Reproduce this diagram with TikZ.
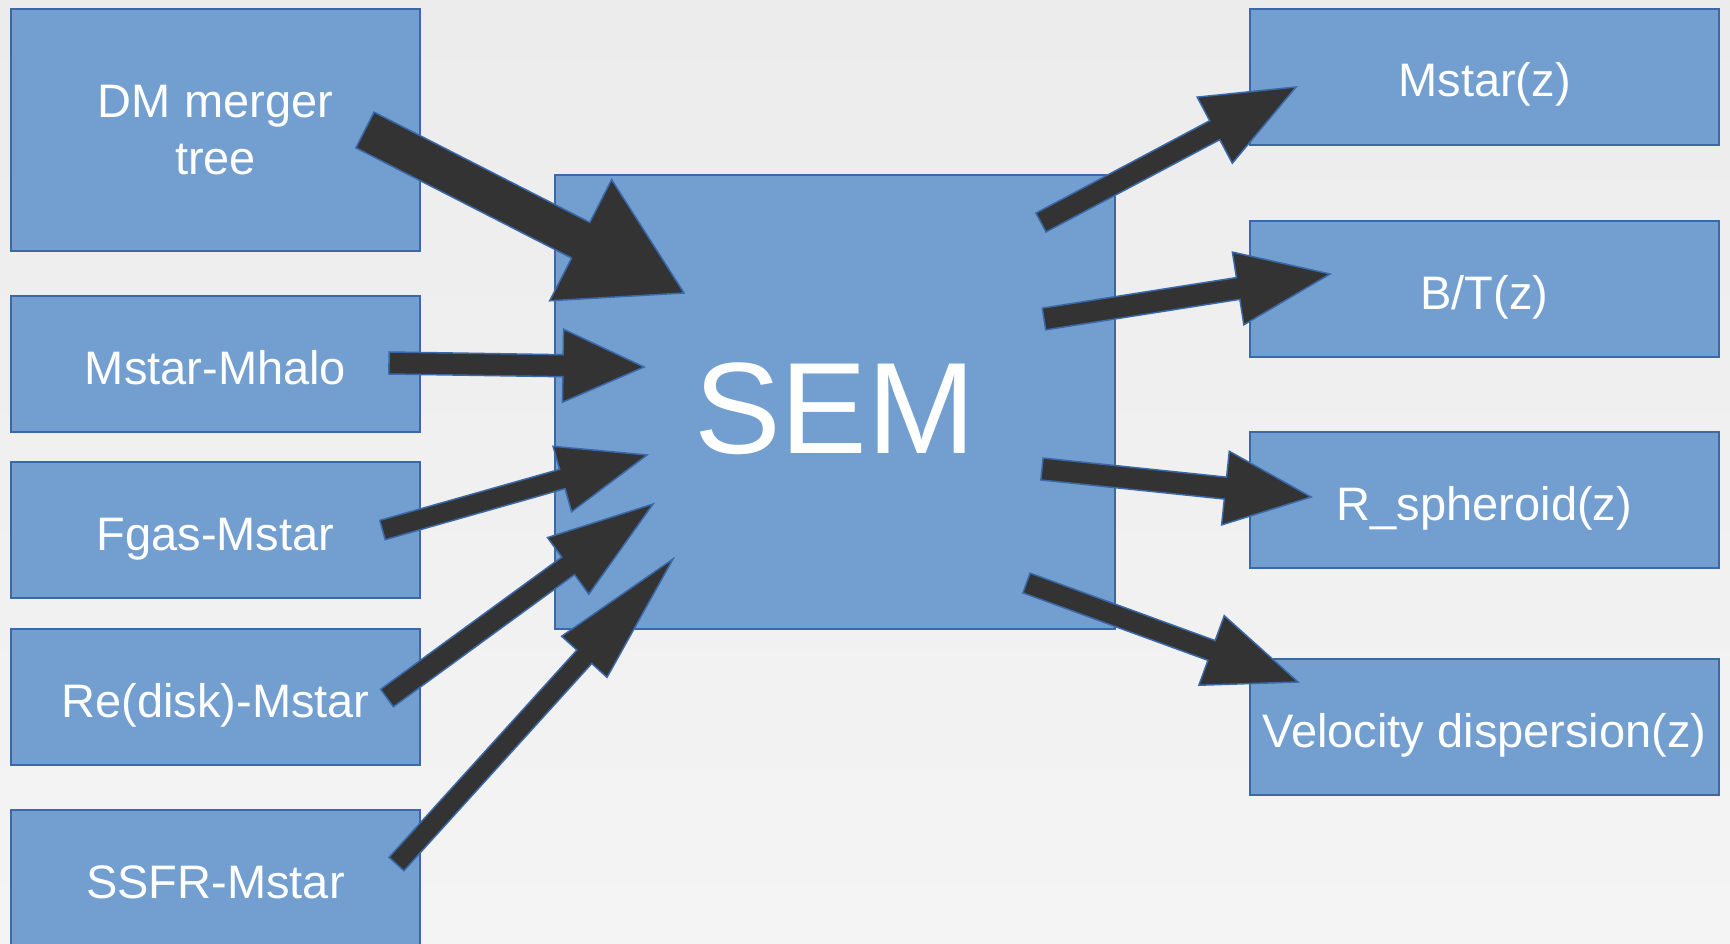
\documentclass[tikz,border=0pt]{standalone}
\usepackage{fontspec}
\setmainfont{Liberation Sans}
\usetikzlibrary{calc}
\definecolor{boxfill}{HTML}{729FCF}
\definecolor{boxline}{HTML}{3A68A8}
\definecolor{arrowfill}{HTML}{333333}
\definecolor{bgtop}{HTML}{ECECEC}
\definecolor{bgbot}{HTML}{F4F4F4}
\tikzset{
  box/.style={draw=boxline, fill=boxfill, line width=2pt, anchor=north west,
    inner sep=0pt, text=white, font=\fontsize{47}{55}\selectfont, align=center},
  oneline/.style={text height=40pt, text depth=0pt},
  blockarr/.style={fill=arrowfill, draw=boxline, line width=1.5pt, line join=miter},
}
% tail, tip, half shaft width, half head width, head length
\newcommand\blockarrow[5]{%
  \coordinate (ba-b) at ($(#2)!#5!(#1)$);
  \filldraw[blockarr]
    ($(#1)!#3!90:(#2)$) -- ($(ba-b)!#3!-90:(#1)$) -- ($(ba-b)!#4!-90:(#1)$)
    -- (#2) -- ($(ba-b)!#4!90:(#1)$) -- ($(ba-b)!#3!90:(#1)$)
    -- ($(#1)!#3!-90:(#2)$) -- cycle;
}
\begin{document}
\begin{tikzpicture}[x=1pt,y=-1pt]
\shade[top color=bgtop, bottom color=bgbot] (0,0) rectangle (1730,944);
\useasboundingbox (0,0) rectangle (1730,944);

% inputs
\node[box, minimum width=409pt, minimum height=242pt, text depth=0pt,
  font=\fontsize{47}{57}\selectfont] (dm) at (10,8) {DM merger\\tree};
\node[box, oneline, minimum width=409pt, minimum height=136pt] (mh) at (10,295) {Mstar-Mhalo};
\node[box, oneline, minimum width=409pt, minimum height=136pt] (fg) at (10,461) {Fgas-Mstar};
\node[box, oneline, minimum width=409pt, minimum height=136pt] (re) at (10,628) {Re(disk)-Mstar};
\node[box, oneline, minimum width=409pt, minimum height=136pt] (ss) at (10,809) {SSFR-Mstar};

% model
\node[box, minimum width=560pt, minimum height=454pt, text height=103pt, text depth=0pt,
  font=\fontsize{130}{130}\selectfont] (sem) at (554,174) {SEM};

% outputs
\node[box, oneline, minimum width=469pt, minimum height=136pt] (mz) at (1249,8) {Mstar(z)};
\node[box, oneline, minimum width=469pt, minimum height=136pt] (bt) at (1249,220) {B/T(z)};
\node[box, oneline, minimum width=469pt, minimum height=136pt] (rs) at (1249,431) {R\_spheroid(z)};
\node[box, oneline, minimum width=469pt, minimum height=136pt] (vd) at (1249,658) {Velocity dispersion(z)};

% connector ends
\coordinate (a1t) at (365,130);    \coordinate (a1h) at (684,293);
\coordinate (a2t) at (389,363);    \coordinate (a2h) at (644,367);
\coordinate (a3t) at (382.5,530);  \coordinate (a3h) at (647,455);
\coordinate (a4t) at (387,698);    \coordinate (a4h) at (653,504);
\coordinate (a5t) at (396.5,864);  \coordinate (a5h) at (673,559);
\coordinate (a6t) at (1041,222.5); \coordinate (a6h) at (1296,87);
\coordinate (a7t) at (1044,319);   \coordinate (a7h) at (1330,274);
\coordinate (a8t) at (1042,469);   \coordinate (a8h) at (1311,497);
\coordinate (a9t) at (1026.5,583); \coordinate (a9h) at (1298,682);

\blockarrow{a1t}{a1h}{20pt}{68pt}{116pt}
\blockarrow{a2t}{a2h}{11pt}{36.5pt}{81pt}
\blockarrow{a3t}{a3h}{10pt}{34pt}{88pt}
\blockarrow{a4t}{a4h}{10.8pt}{35pt}{105pt}
\blockarrow{a5t}{a5h}{10pt}{30.6pt}{132pt}
\blockarrow{a6t}{a6h}{10.7pt}{37.4pt}{92pt}
\blockarrow{a7t}{a7h}{11pt}{36.8pt}{93pt}
\blockarrow{a8t}{a8h}{11pt}{37pt}{86pt}
\blockarrow{a9t}{a9h}{10.5pt}{37pt}{92pt}
\end{tikzpicture}
\end{document}
